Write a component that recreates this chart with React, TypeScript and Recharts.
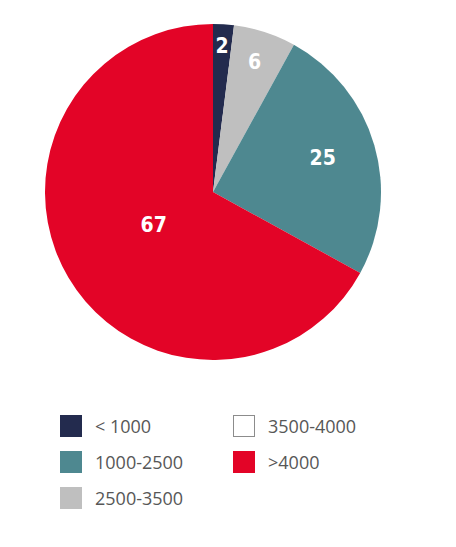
import { Cell, Pie, PieChart } from "recharts";

const CATEGORIES = ["< 1000", "1000-2500", "2500-3500", "3500-4000", ">4000"];
const SHARES = [2, 25, 6, 0, 67];
// order in which the slices run clockwise from 12 o'clock
const PIE_ORDER = [0, 2, 1, 3, 4];
const COLORS = ["#232b4e", "#4e8890", "#bfbfbf", "#ffffff", "#e30427"];
// how far out each slice's number sits, as a share of the radius
const LABEL_POS = [0.86, 0.68, 0.8, 0, 0.41];

const RADIAN = Math.PI / 180;
const RADIUS = 168;

const pieData = PIE_ORDER.map((i) => ({
  name: CATEGORIES[i],
  value: SHARES[i],
  color: COLORS[i],
  labelPos: LABEL_POS[i],
}));

const LEGEND_ROWS = [
  [0, 3],
  [1, 4],
  [2, -1],
];

function SliceLabel(props: any) {
  const { cx, cy, midAngle, payload, value } = props;
  if (!value) return null;
  const r = RADIUS * payload.labelPos;
  const x = cx + r * Math.cos(-midAngle * RADIAN);
  const y = cy + r * Math.sin(-midAngle * RADIAN) - 2;
  return (
    <text
      x={x}
      y={y}
      fill="#ffffff"
      textAnchor="middle"
      dominantBaseline="central"
      fontFamily="'DejaVu Sans Condensed', 'DejaVu Sans', sans-serif"
      fontWeight="bold"
      fontSize={21}
      style={{ fontStretch: "condensed" }}
    >
      {value}
    </text>
  );
}

function LegendItem({ idx }: { idx: number }) {
  return (
    <div style={{ display: "flex", alignItems: "center", width: 173, height: 36 }}>
      <div
        style={{
          width: 22,
          height: 22,
          boxSizing: "border-box",
          background: COLORS[idx],
          border: idx === 3 ? "1px solid #8c8c8c" : "none",
          marginRight: 13,
        }}
      />
      <span>{CATEGORIES[idx]}</span>
    </div>
  );
}

export default function App() {
  return (
    <div style={{ position: "relative", width: 440, height: 531, background: "#fff" }}>
      <PieChart width={440} height={380} margin={{ top: 0, right: 0, bottom: 0, left: 0 }}>
        <Pie
          data={pieData}
          dataKey="value"
          cx={205}
          cy={184}
          outerRadius={RADIUS}
          startAngle={90}
          endAngle={-270}
          stroke="none"
          label={SliceLabel}
          labelLine={false}
          isAnimationActive={false}
        >
          {pieData.map((d) => (
            <Cell key={d.name} fill={d.color} />
          ))}
        </Pie>
      </PieChart>
      <div
        style={{
          position: "absolute",
          left: 52,
          top: 400,
          fontFamily: "'Open Sans', sans-serif",
          fontSize: 18,
          color: "#575757",
        }}
      >
        {LEGEND_ROWS.map((row, r) => (
          <div key={r} style={{ display: "flex" }}>
            {row.map((idx) => (idx >= 0 ? <LegendItem key={idx} idx={idx} /> : null))}
          </div>
        ))}
      </div>
    </div>
  );
}
